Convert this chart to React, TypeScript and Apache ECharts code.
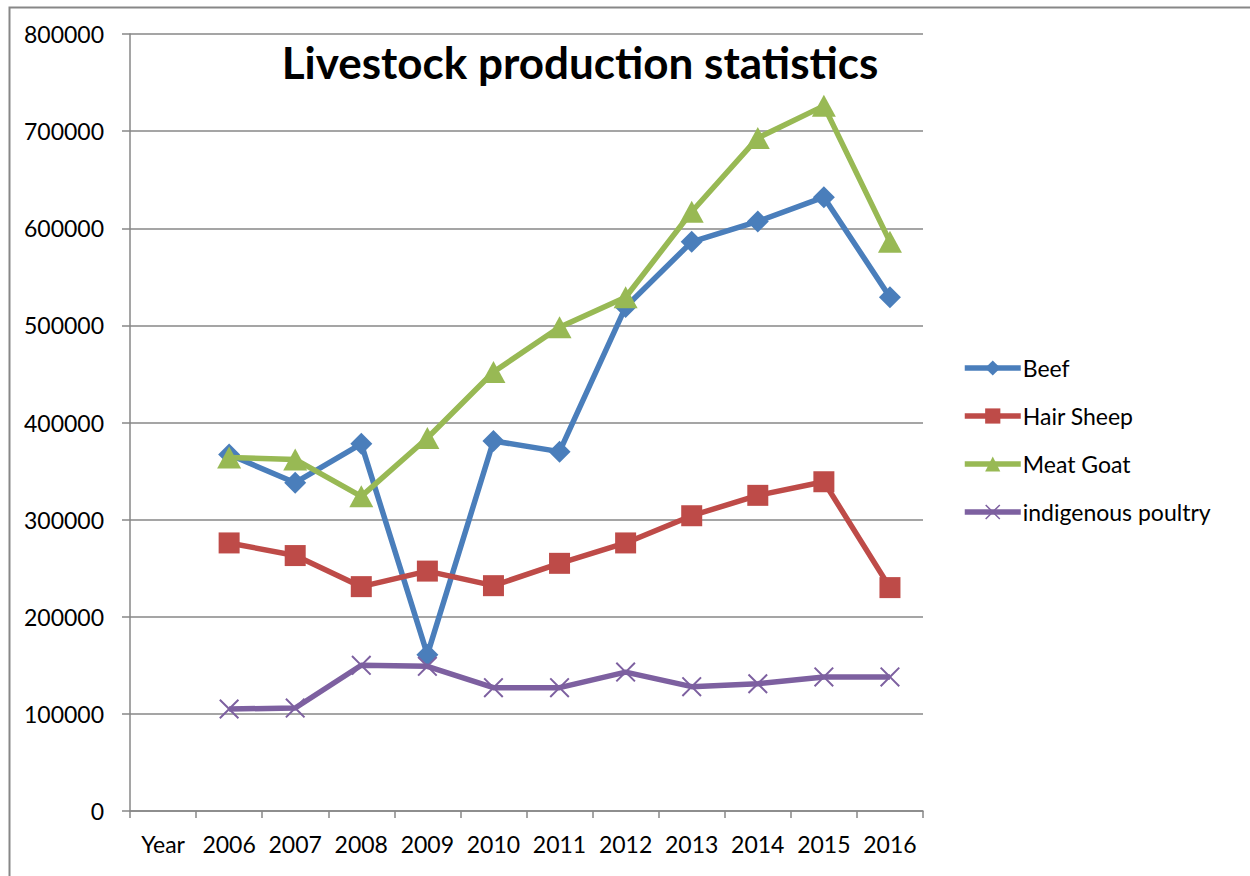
import React, { useEffect, useRef } from "react";
import * as echarts from "echarts";

// Category labels along the x axis (the first slot is the axis caption "Year")
const categories = ["Year", "2006", "2007", "2008", "2009", "2010", "2011", "2012", "2013", "2014", "2015", "2016"];

// Yearly production figures, 2006–2016
const beef = [367000, 338000, 378000, 161000, 381000, 370000, 519000, 586000, 607000, 632000, 529000];
const hairSheep = [276000, 263000, 231000, 247000, 232000, 255000, 276000, 304000, 325000, 339000, 230000];
const meatGoat = [364000, 362000, 324000, 384000, 452000, 498000, 529000, 617000, 693000, 726000, 586000];
const indigenousPoultry = [105000, 106000, 150000, 149000, 127000, 127000, 143000, 128000, 131000, 138000, 138000];

// Y axis tick values
const yTicks = [0, 100000, 200000, 300000, 400000, 500000, 600000, 700000, 800000];

const FONT = "Lato, 'Open Sans', sans-serif";
const GRID_GREY = "#878787";

// thin "x" marker
const CROSS =
  "path://M0,1.4L1.4,0L10,8.6L18.6,0L20,1.4L11.4,10L20,18.6L18.6,20L10,11.4L1.4,20L0,18.6L8.6,10Z";

// the "Year" slot carries no value
const withYearSlot = (values: number[]) => [null, ...values];

export default function App() {
  const ref = useRef<HTMLDivElement>(null);

  useEffect(() => {
    if (!ref.current) return;
    const chart = echarts.init(ref.current, null, { renderer: "svg" });

    const line = (name: string, values: number[], color: string, symbol: string, symbolSize: any, z: number) => ({
      name,
      type: "line",
      data: withYearSlot(values),
      symbol,
      symbolSize,
      showAllSymbol: true,
      connectNulls: false,
      z,
      lineStyle: { color, width: 5.5 },
      itemStyle: { color, borderWidth: 0 },
      emphasis: { disabled: true },
    });

    chart.setOption({
      animation: false,
      backgroundColor: "#ffffff",
      title: {
        text: "Livestock production statistics",
        left: 580,
        top: 40,
        textAlign: "center",
        padding: 0,
        textStyle: { fontFamily: FONT, fontWeight: "bold", fontSize: 44, color: "#000000" },
      },
      graphic: [
        {
          type: "rect",
          left: 7,
          top: 5,
          shape: { x: 0, y: 0, width: 1270, height: 900 },
          style: { fill: "none", stroke: GRID_GREY, lineWidth: 2 },
          silent: true,
          z: -10,
        },
      ],
      legend: {
        orient: "vertical",
        left: 962,
        top: 356,
        padding: 0,
        itemWidth: 56,
        itemHeight: 19,
        itemGap: 24,
        lineStyle: { width: 5.5 },
        textStyle: { fontFamily: FONT, fontSize: 23, color: "#000000", lineHeight: 24, padding: [0, 0, 0, -3] },
        data: ["Beef", "Hair Sheep", "Meat Goat", "indigenous poultry"],
      },
      grid: { left: 130, right: 327, top: 34, bottom: 65, containLabel: false },
      xAxis: {
        type: "category",
        data: categories,
        boundaryGap: true,
        axisLine: { show: true, lineStyle: { color: GRID_GREY, width: 1.5 } },
        axisTick: { show: true, alignWithLabel: false, length: 7, lineStyle: { color: GRID_GREY, width: 1.5 } },
        axisLabel: { fontFamily: FONT, fontSize: 23, color: "#000000", margin: 21, interval: 0 },
        splitLine: { show: false },
      },
      yAxis: {
        type: "value",
        min: yTicks[0],
        max: yTicks[yTicks.length - 1],
        interval: yTicks[1] - yTicks[0],
        axisLine: { show: true, lineStyle: { color: GRID_GREY, width: 1.5 } },
        axisTick: { show: true, length: 8, lineStyle: { color: GRID_GREY, width: 1.5 } },
        axisLabel: {
          fontFamily: FONT,
          fontSize: 23,
          color: "#000000",
          margin: 26,
          formatter: (v: number) => String(v),
        },
        splitLine: { show: true, lineStyle: { color: GRID_GREY, width: 1.5 } },
      },
      series: [
        line("Beef", beef, "#4A7EBB", "diamond", 22, 2),
        line("Hair Sheep", hairSheep, "#BE4B48", "rect", 21, 3),
        line("Meat Goat", meatGoat, "#98B954", "triangle", [24, 22], 4),
        line("indigenous poultry", indigenousPoultry, "#7D60A0", CROSS, 20, 5),
      ],
    });

    return () => chart.dispose();
  }, []);

  return (
    <div
      ref={ref}
      style={{ position: "absolute", left: 0, top: 0, width: 1250, height: 876, background: "#ffffff" }}
    />
  );
}
